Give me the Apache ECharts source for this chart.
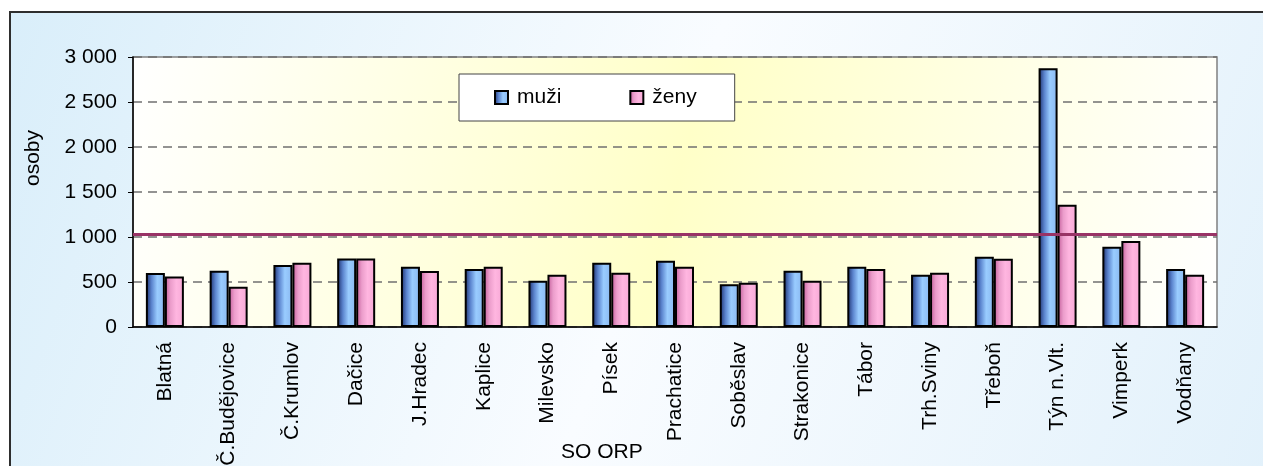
<!DOCTYPE html>
<html>
<head>
<meta charset="utf-8">
<title>osoby podle SO ORP</title>
<script src="https://cdn.jsdelivr.net/npm/echarts@6/dist/echarts.min.js"></script>
<style>
  html, body { margin: 0; padding: 0; background: #fff; }
  #chart { width: 1263px; height: 466px; }
</style>
</head>
<body>
<div id="chart"></div>
<script>
// data
const categories = ['Blatná', 'Č.Budějovice', 'Č.Krumlov', 'Dačice', 'J.Hradec', 'Kaplice', 'Milevsko',
  'Písek', 'Prachatice', 'Soběslav', 'Strakonice', 'Tábor', 'Trh.Sviny', 'Třeboň', 'Týn n.Vlt.',
  'Vimperk', 'Vodňany'];
const muzi = [600, 626, 690, 760, 670, 645, 515, 715, 737, 474, 626, 670, 581, 781, 2874, 892, 645];
const zeny = [560, 448, 715, 760, 622, 670, 581, 604, 670, 493, 515, 645, 604, 759, 1359, 955, 581];
const refLine = 1035;
const yTickLabels = ['0', '500', '1 000', '1 500', '2 000', '2 500', '3 000'];

const FONT = 'Arial, "Liberation Sans", sans-serif';
const G = echarts.graphic.LinearGradient;

const chart = echarts.init(document.getElementById('chart'));

// bars get a sideways shading like the old excel 3d look
const blueFill = new G(0, 0, 1, 0, [
  { offset: 0, color: '#1a2c68' },
  { offset: 0.3, color: '#5b84ce' },
  { offset: 0.6, color: '#99ccff' },
  { offset: 1, color: '#8ab8f0' }
]);
const pinkFill = new G(0, 0, 1, 0, [
  { offset: 0, color: '#c25a98' },
  { offset: 0.3, color: '#eb9dcb' },
  { offset: 0.6, color: '#ffb6e0' },
  { offset: 1, color: '#f7a8d6' }
]);

const option = {
  animation: false,
  textStyle: { fontFamily: FONT },
  graphic: [
    {
      type: 'rect', z: -100, silent: true,
      shape: { x: 10, y: 12, width: 1263, height: 466 },
      style: {
        fill: new G(0, 0, 1, 1, [
          { offset: 0, color: '#d9eefa' },
          { offset: 0.5, color: '#f9fcff' },
          { offset: 1, color: '#e2f1fb' }
        ]),
        stroke: '#2e2e2e', lineWidth: 2
      }
    },
    {
      type: 'text', left: 23, top: 130, rotation: Math.PI / 2,
      style: { text: 'osoby', font: '21px ' + FONT, fill: '#000' }
    },
    {
      type: 'text', left: 561, top: 442,
      style: { text: 'SO ORP', font: '21px ' + FONT, fill: '#000' }
    }
  ],
  legend: {
    left: 459, top: 74,
    padding: [13, 38, 13, 35],
    itemGap: 68,
    itemWidth: 13, itemHeight: 13,
    icon: 'rect',
    backgroundColor: '#fff',
    borderColor: '#444', borderWidth: 1,
    textStyle: { fontSize: 21, color: '#000', padding: [0, 0, 0, 4] },
    data: ['muži', 'ženy']
  },
  grid: {
    left: 133, top: 57, right: 46, bottom: 139,
    outerBoundsMode: 'none',
    show: true,
    borderColor: '#808080', borderWidth: 1.5,
    backgroundColor: new G(0, 0, 1, 1, [
      { offset: 0, color: '#ffffff' },
      { offset: 0.5, color: '#ffffc8' },
      { offset: 1, color: '#ffffff' }
    ])
  },
  xAxis: {
    type: 'category',
    data: categories,
    axisLine: { lineStyle: { color: '#000', width: 1.5 } },
    axisTick: { length: 5, lineStyle: { color: '#000' } },
    axisLabel: { rotate: 90, fontSize: 21, color: '#000', margin: 15, interval: 0 }
  },
  yAxis: {
    type: 'value',
    min: 0, max: 3000, interval: 500,
    axisLine: { show: true, lineStyle: { color: '#000', width: 1.5 } },
    axisTick: { show: true, length: 5, lineStyle: { color: '#000' } },
    axisLabel: { fontSize: 21, color: '#000', margin: 16, formatter: v => yTickLabels[v / 500] },
    splitLine: { lineStyle: { color: '#707070', type: [9, 6], width: 1.5 } }
  },
  series: [
    {
      name: 'muži', type: 'bar', data: muzi,
      barWidth: 19, barGap: '0%',
      itemStyle: { color: blueFill, borderColor: '#000', borderWidth: 2 },
      markLine: {
        silent: true, symbol: ['none', 'none'],
        label: { show: false },
        lineStyle: { color: '#993366', width: 3, type: 'solid' },
        data: [{ yAxis: refLine }]
      }
    },
    {
      name: 'ženy', type: 'bar', data: zeny,
      barWidth: 19,
      itemStyle: { color: pinkFill, borderColor: '#000', borderWidth: 2 }
    }
  ]
};

chart.setOption(option);
</script>
</body>
</html>
